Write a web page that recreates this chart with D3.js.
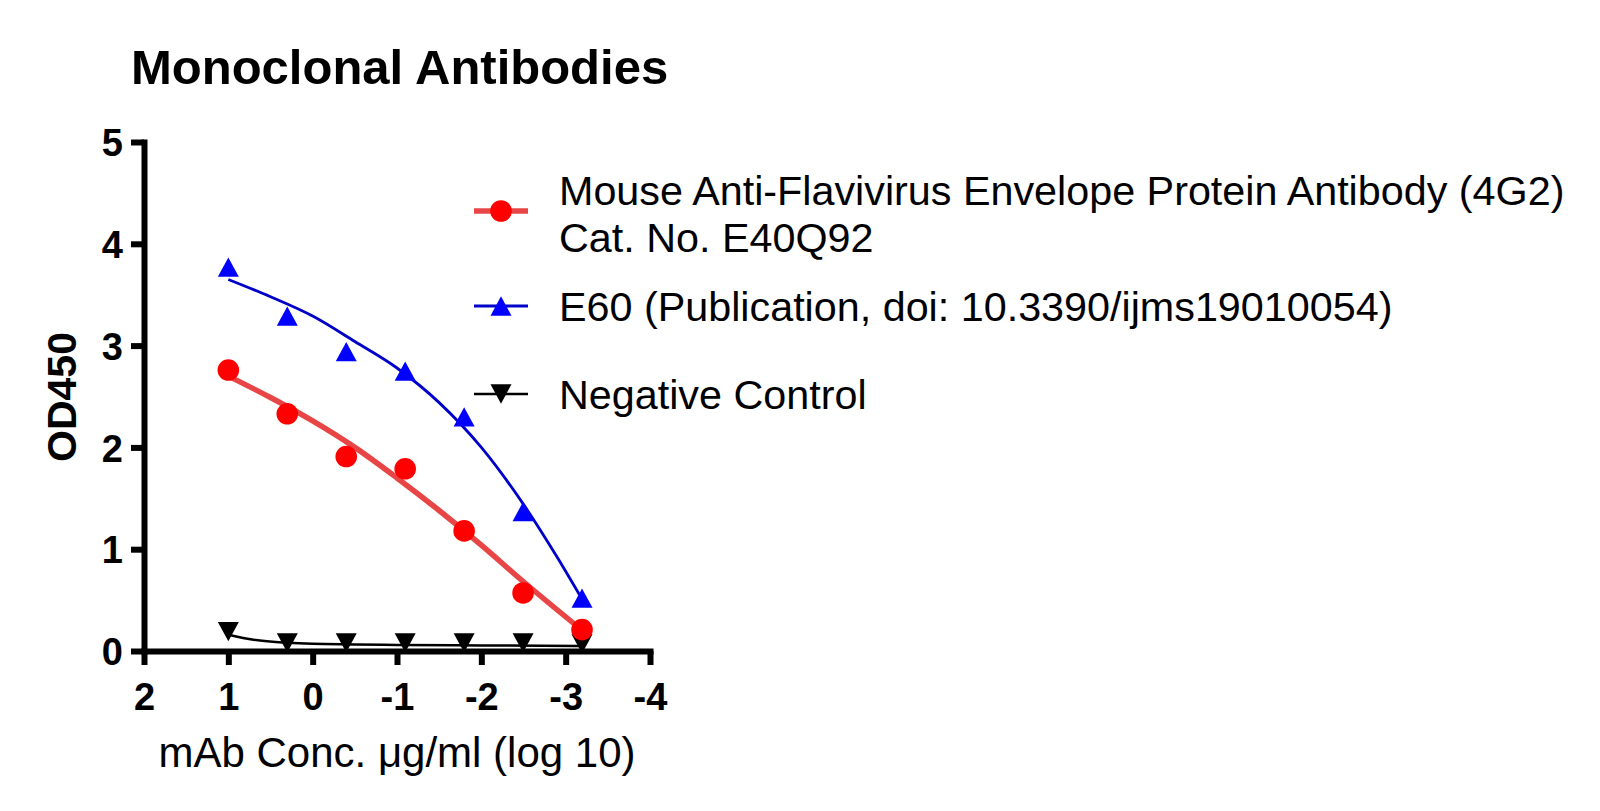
<!DOCTYPE html>
<html>
<head>
<meta charset="utf-8">
<script src="https://cdn.jsdelivr.net/npm/d3@7"></script>
<style>
  html, body { margin: 0; padding: 0; background: #fff; }
  svg { display: block; }
  text { font-family: "Liberation Sans", Arial, Helvetica, sans-serif; fill: #000; }
</style>
</head>
<body>
<svg id="chart" width="1600" height="811"></svg>
<script>
// ---- data -------------------------------------------------------------
const logConc = [1, 0.301, -0.398, -1.097, -1.796, -2.495, -3.194];

const od4G2     = [2.76, 2.33, 1.91, 1.79, 1.18, 0.57, 0.21];
const odE60     = [3.77, 3.29, 2.94, 2.75, 2.30, 1.37, 0.52];
const odNegCtrl = [0.19, 0.08, 0.08, 0.08, 0.08, 0.08, 0.07];

// fitted curves (x = log10 conc, y = OD450)
const fit4G2X = [1.0, 0.5, 0, -0.5, -1.0, -1.5, -2.0, -2.5, -3.2];
const fit4G2Y = [2.70, 2.49, 2.26, 2.00, 1.70, 1.38, 1.04, 0.68, 0.20];
const fitE60X = [1.0, 0.5, 0, -0.5, -1.0, -1.5, -2.0, -2.5, -2.9, -3.2];
const fitE60Y = [3.65, 3.48, 3.29, 3.04, 2.78, 2.44, 2.00, 1.44, 0.92, 0.50];
const fitNegX = [1.0, 0.7, 0.3, 0, -0.5, -1.0, -2.0, -3.2];
const fitNegY = [0.16, 0.11, 0.08, 0.07, 0.065, 0.06, 0.055, 0.05];

const xTicks = [2, 1, 0, -1, -2, -3, -4];
const yTicks = [0, 1, 2, 3, 4, 5];

const chartTitle = "Monoclonal Antibodies";
const xTitle = "mAb Conc. \u03bcg/ml (log 10)";
const yTitle = "OD450";
const legendLabels = [
  ["Mouse Anti-Flavivirus Envelope Protein Antibody (4G2)", "Cat. No. E40Q92"],
  ["E60 (Publication, doi: 10.3390/ijms19010054)"],
  ["Negative Control"]
];

// ---- layout -----------------------------------------------------------
const svg = d3.select("#chart");
const x = d3.scaleLinear().domain([2, -4]).range([144, 650]);
const y = d3.scaleLinear().domain([0, 5]).range([651, 142]);

// triangle symbols centred on their bounding box
const triUp = {
  draw(ctx, size) {
    const s = Math.sqrt(size);
    const h = s * 0.92;
    ctx.moveTo(0, -h / 2);
    ctx.lineTo(s / 2, h / 2);
    ctx.lineTo(-s / 2, h / 2);
    ctx.closePath();
  }
};
const triDown = {
  draw(ctx, size) {
    const s = Math.sqrt(size);
    const h = s * 0.92;
    ctx.moveTo(0, h / 2);
    ctx.lineTo(s / 2, -h / 2);
    ctx.lineTo(-s / 2, -h / 2);
    ctx.closePath();
  }
};

const series = [
  { pts: odNegCtrl, fx: fitNegX, fy: fitNegY, color: "#000000", line: "#000000", lw: 2.5, sym: triDown, size: 21 * 21 },
  { pts: odE60,     fx: fitE60X, fy: fitE60Y, color: "#0000ff", line: "#0000c8", lw: 2.8, sym: triUp,   size: 21 * 21 },
  { pts: od4G2,     fx: fit4G2X, fy: fit4G2Y, color: "#ff0000", line: "#e84646", lw: 5.5, sym: d3.symbolCircle, size: Math.PI * 10.8 * 10.8 }
];

// ---- axes -------------------------------------------------------------
const fontTick = "bold 38px 'Liberation Sans', Arial, sans-serif";

const yAxis = svg.append("g")
  .attr("transform", `translate(${x(2)},0)`)
  .call(d3.axisLeft(y).tickValues(yTicks).tickSize(13).tickSizeOuter(0).tickFormat(d3.format("d")));
const xAxis = svg.append("g")
  .attr("transform", `translate(0,${y(0)})`)
  .call(d3.axisBottom(x).tickValues(xTicks).tickSize(14).tickSizeOuter(0).tickFormat(d => d3.format("d")(d).replace("\u2212", "-")));

[yAxis, xAxis].forEach(g => {
  g.select(".domain").attr("stroke", "#000").attr("stroke-width", 6).attr("stroke-linecap", "square");
  g.selectAll(".tick line").attr("stroke", "#000").attr("stroke-width", 6);
  g.selectAll(".tick text").attr("font-family", null).attr("font-size", null)
    .style("font", fontTick).attr("fill", "#000");
});
yAxis.selectAll(".tick text").attr("x", -21).attr("dy", null).attr("y", 13.6);
xAxis.selectAll(".tick text").attr("dy", null).attr("y", 59);

// ---- fitted curves and points -------------------------------------------
const lineGen = d3.line().x(d => x(d[0])).y(d => y(d[1])).curve(d3.curveMonotoneX);

series.forEach(s => {
  const fit = s.fx.map((v, i) => [v, s.fy[i]]);
  svg.append("path")
    .attr("d", lineGen(fit))
    .attr("fill", "none")
    .attr("stroke", s.line)
    .attr("stroke-width", s.lw);
  svg.append("g").selectAll("path")
    .data(s.pts)
    .join("path")
    .attr("transform", (d, i) => `translate(${x(logConc[i])},${y(d)})`)
    .attr("d", d3.symbol().type(s.sym).size(s.size))
    .attr("fill", s.color);
});

// ---- title and axis titles ------------------------------------------------
svg.append("text")
  .attr("x", 131).attr("y", 84)
  .style("font", "bold 49px 'Liberation Sans', Arial, sans-serif")
  .text(chartTitle);

svg.append("text")
  .attr("transform", "translate(76,397) rotate(-90)")
  .attr("text-anchor", "middle")
  .style("font", "bold 41px 'Liberation Sans', Arial, sans-serif")
  .text(yTitle);

svg.append("text")
  .attr("x", 397).attr("y", 767)
  .attr("text-anchor", "middle")
  .style("font", "42px 'Liberation Sans', Arial, sans-serif")
  .text(xTitle);

// ---- legend -----------------------------------------------------------
const legendFont = 41.3;
const legendRows = [
  { s: series[2], symY: 211, textY: [190, 237] },
  { s: series[1], symY: 306, textY: [306] },
  { s: series[0], symY: 394, textY: [394] }
];
const legend = svg.append("g");
legendRows.forEach((r, k) => {
  legend.append("line")
    .attr("x1", 474).attr("x2", 528)
    .attr("y1", r.symY).attr("y2", r.symY)
    .attr("stroke", r.s.line).attr("stroke-width", r.s.lw);
  legend.append("path")
    .attr("transform", `translate(501,${r.symY})`)
    .attr("d", d3.symbol().type(r.s.sym).size(r.s.size))
    .attr("fill", r.s.color);
  legendLabels[k].forEach((t, j) => {
    legend.append("text")
      .attr("x", 559).attr("y", r.textY[j] + 0.358 * legendFont)
      .style("font", `${legendFont}px 'Liberation Sans', Arial, sans-serif`)
      .text(t);
  });
});
</script>
</body>
</html>
